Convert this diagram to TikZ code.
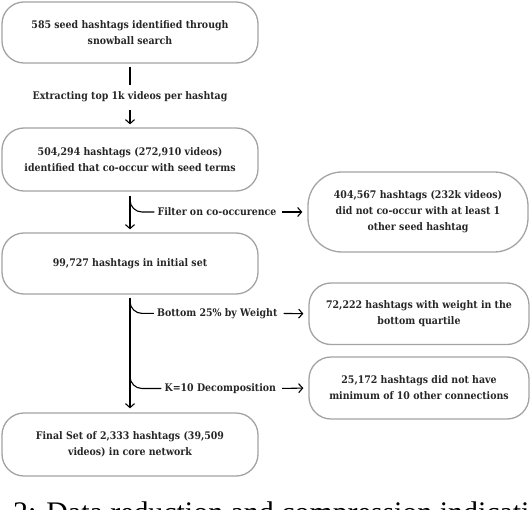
\documentclass[tikz,border=0pt]{standalone}
\usepackage{fontspec}
\setmainfont{Liberation Serif}
\newfontfamily\boxfont{DejaVu Serif}[FakeStretch=0.9]
\usetikzlibrary{arrows.meta}
\definecolor{boxgray}{HTML}{A3A3A3}
\definecolor{txt}{HTML}{262626}
\begin{document}
\begin{tikzpicture}[x=1bp,y=-1bp,
  box/.style={draw=boxgray, line width=1.3bp, rounded corners=22bp, minimum width=256bp, minimum height=62bp, align=center, font=\boxfont\bfseries\fontsize{10.5}{16}\selectfont, text=txt, inner sep=0pt},
  rbox/.style={box, minimum width=220bp},
  lab/.style={font=\boxfont\bfseries\fontsize{10.5}{16}\selectfont, text=txt, inner sep=3bp},
  ln/.style={draw=black, line width=1.1bp},
  arr/.style={ln, -{Straight Barb[length=4bp,width=9bp]}}
]
\useasboundingbox (0,0) rectangle (530,510);
\clip (0,0) rectangle (530,510);
% main column
\node[box, minimum height=61bp] (b1) at (130,32.5) {585 seed hashtags identified through\\snowball search};
\node[lab] (L1) at (130,97) {Extracting top 1k videos per hashtag};
\node[box, minimum height=63bp] (b2) at (130,159.5) {504,294 hashtags (272,910 videos)\\identified that co-occur with seed terms};
\node[box, minimum height=61bp] (b3) at (130,263.5) {99,727 hashtags in initial set};
\node[box, minimum height=63bp] (b4) at (130,444.5) {Final Set of 2,333 hashtags (39,509\\videos) in core network};
% side boxes
\node[rbox, minimum height=80bp, rounded corners=34bp] (rA) at (418,212) {404,567 hashtags (232k videos)\\did not co-occur with at least 1\\other seed hashtag};
\node[rbox, minimum height=61.5bp] (rB) at (419,313.75) {72,222 hashtags with weight in the\\bottom quartile};
\node[rbox, minimum height=62bp] (rC) at (419,388) {25,172 hashtags did not have\\minimum of 10 other connections};
% labels
\node[lab] (F) at (217,212) {Filter on co-occurence};
\node[lab] (W) at (217.25,313.4) {Bottom 25\% by Weight};
\node[lab] (K) at (220.3,388.5) {K=10 Decomposition};
% connectors
\draw[ln, shorten <=3bp, shorten >=4bp] (b1) -- (L1);
\draw[arr, shorten <=5bp, shorten >=3bp] (L1) -- (b2);
\draw[arr, shorten <=4bp, shorten >=3bp] (b2) -- (b3);
\draw[arr, shorten <=3bp, shorten >=4bp] (b3) -- (b4);
\coordinate (c1) at (130,197);
\coordinate (c2) at (130,300);
\coordinate (c3) at (130,375);
\draw[ln, rounded corners=12bp] (c1) |- (F.west);
\draw[ln, rounded corners=12bp] (c2) |- (W.west);
\draw[ln, rounded corners=12bp] (c3) |- (K.west);
\draw[arr, shorten <=2bp, shorten >=5bp] (F.east) -- (rA.west);
\draw[arr, shorten <=3bp, shorten >=5bp] (W.east) -- (rB.west);
\draw[arr, shorten <=3bp, shorten >=5bp] (K.east) -- (rC.west);
% caption (cut off at the bottom edge, as in the reference)
\node[anchor=base west, inner sep=0pt, font=\fontsize{30}{30}\selectfont, text=black] (cap) at (13,522) {2: Data reduction and compression indicating};
\end{tikzpicture}
\end{document}
